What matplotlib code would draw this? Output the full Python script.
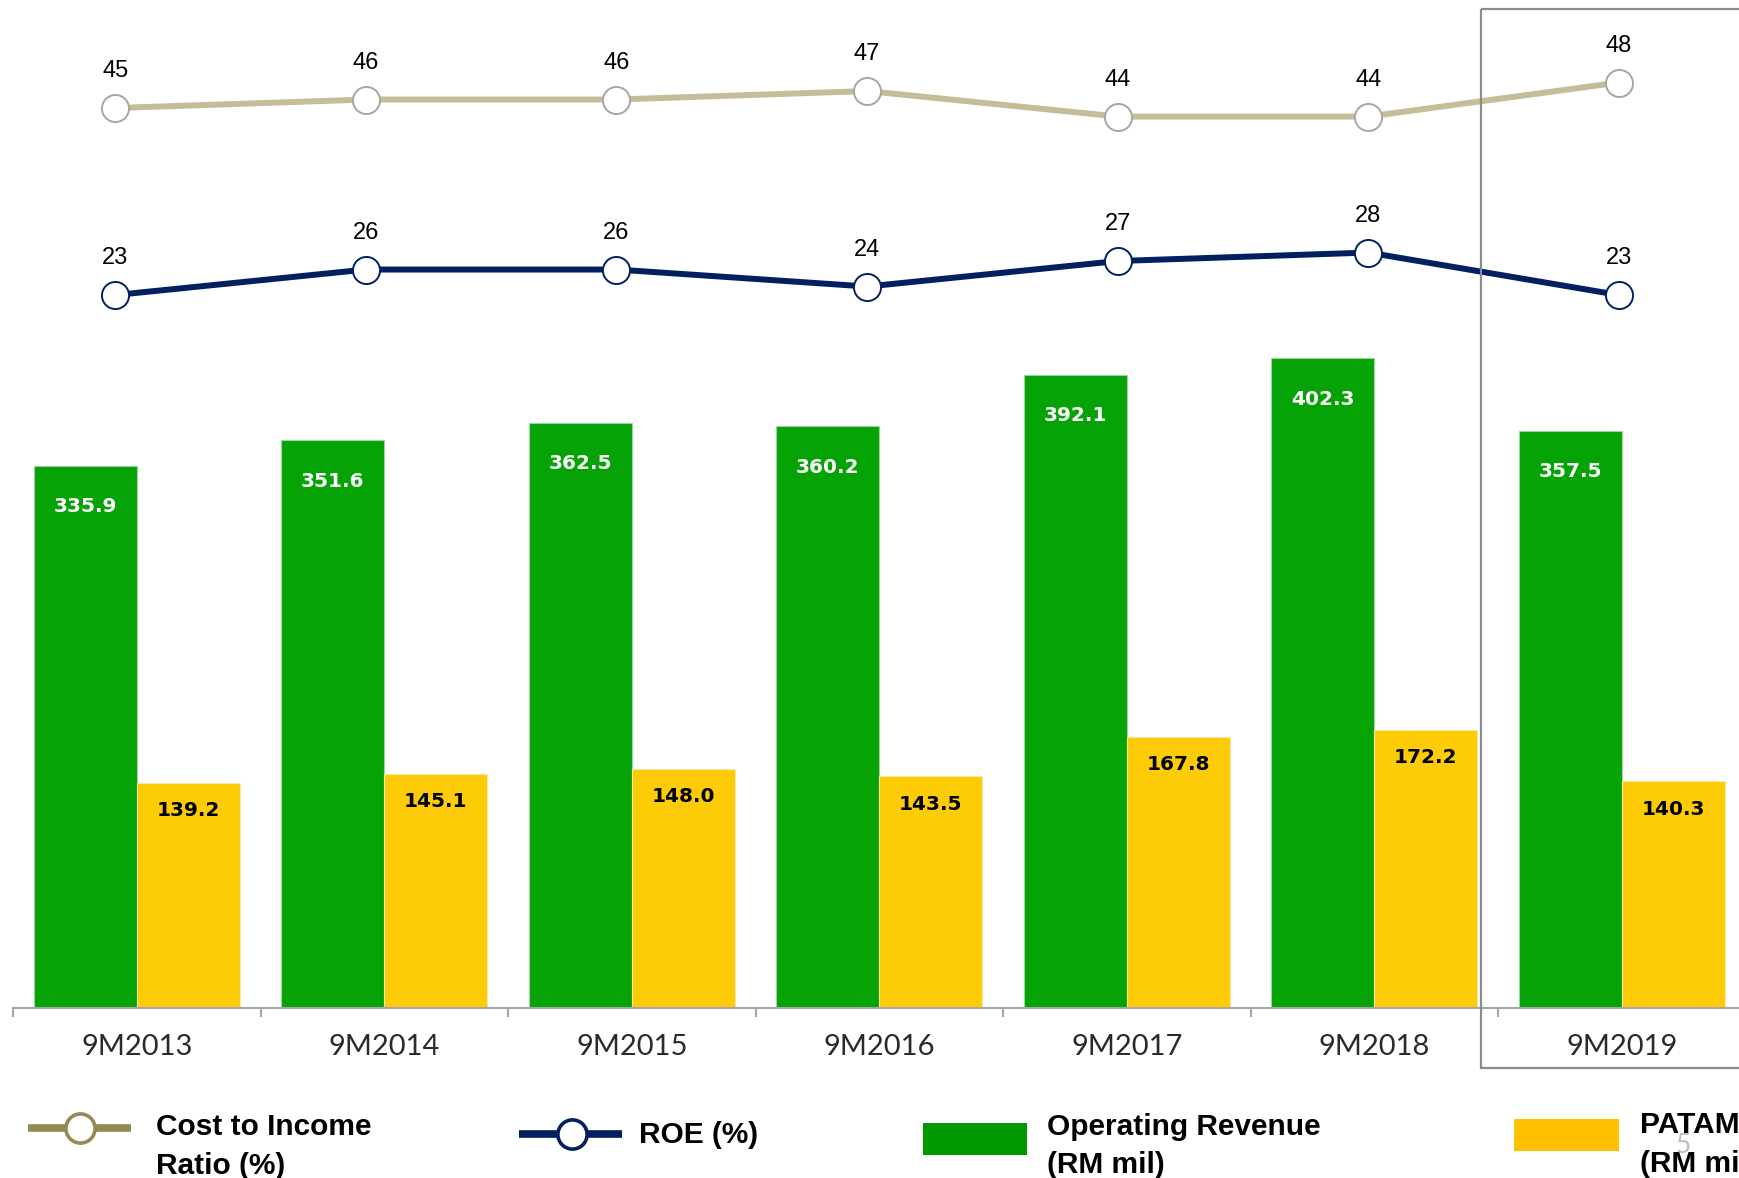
import matplotlib
matplotlib.use("Agg")
import matplotlib.pyplot as plt
from matplotlib.lines import Line2D
from matplotlib.patches import Rectangle
import numpy as np

# ---- data ----
periods = ["9M2013", "9M2014", "9M2015", "9M2016", "9M2017", "9M2018", "9M2019"]
operating_revenue = [335.9, 351.6, 362.5, 360.2, 392.1, 402.3, 357.5]
patami = [139.2, 145.1, 148.0, 143.5, 167.8, 172.2, 140.3]
cost_to_income = [45, 46, 46, 47, 44, 44, 48]
roe = [23, 26, 26, 24, 27, 28, 23]

# ---- colours ----
GREEN = "#05A305"
GREEN_EDGE = "#9ED69E"
YELLOW = "#FDCC07"
YELLOW_EDGE = "#FCE7A0"
CIR_LINE = "#C4BD97"
CIR_DARK = "#948A54"
ROE_NAVY = "#002060"
AXIS_GREY = "#A6A6A6"

W, H, DPI = 1739, 1178, 100
fig = plt.figure(figsize=(W / DPI, H / DPI), dpi=DPI)
fig.patch.set_facecolor("white")

# main axes: baseline at y=1008 px, category slots 247.5 px wide starting at x=13
left_px, base_px, slot_px = 13, 1008, 247.5
axes_rect = [left_px / W, (H - base_px) / H, 7 * slot_px / W, base_px / H]
ax = fig.add_axes(axes_rect)
ax.set_facecolor("none")

x = np.arange(len(periods))
bw = 0.416
bars_rev = ax.bar(x - bw / 2, operating_revenue, width=bw, color=GREEN,
                  edgecolor=GREEN_EDGE, linewidth=0.8, zorder=2)
bars_pat = ax.bar(x + bw / 2, patami, width=bw, color=YELLOW,
                  edgecolor=YELLOW_EDGE, linewidth=0.8, zorder=2)
ax.set_xlim(-0.5, len(periods) - 0.5)
ax.set_ylim(0, base_px / 1.615)

for rect, v in zip(bars_rev, operating_revenue):
    ax.annotate(f"{v:.1f}", (rect.get_x() + rect.get_width() / 2, v),
                xytext=(0, -29.5), textcoords="offset points",
                ha="center", va="center", color="white",
                fontsize=14.5, fontweight="bold", family="DejaVu Sans")
for rect, v in zip(bars_pat, patami):
    ax.annotate(f"{v:.1f}", (rect.get_x() + rect.get_width() / 2, v),
                xytext=(0, -20), textcoords="offset points",
                ha="center", va="center", color="black",
                fontsize=14.5, fontweight="bold", family="DejaVu Sans")

# x axis: boundary ticks, labels centred in each slot
for s in ("left", "top", "right"):
    ax.spines[s].set_visible(False)
ax.spines["bottom"].set_color(AXIS_GREY)
ax.spines["bottom"].set_linewidth(1.5)
ax.set_yticks([])
ax.set_xticks(np.arange(-0.5, len(periods), 1.0))
ax.set_xticklabels([])
ax.tick_params(axis="x", which="major", direction="out", length=6.5,
               width=1.5, color=AXIS_GREY)
ax.set_xticks(x, minor=True)
ax.set_xticklabels(periods, minor=True)
ax.tick_params(axis="x", which="minor", length=0, pad=19)
for lab in ax.get_xticklabels(minor=True):
    lab.set_fontfamily("Lato")
    lab.set_fontweight("normal")
    lab.set_fontsize(21)
    lab.set_color("#2a2a2a")

# ratio lines: own axes with a slightly wider point spacing than the bar slots
ax2 = fig.add_axes(axes_rect, zorder=5)
ax2.patch.set_alpha(0)
ax2.set_xlim(-0.408, 6.505)
ax2.set_ylim(-60.88, 57.71)
ax2.set_axis_off()
ax2.plot(x, cost_to_income, color=CIR_LINE, lw=4.3, marker="o", ms=19.5,
         mfc="white", mec="#A6A6A6", mew=1.4, zorder=3, solid_capstyle="butt")
ax2.plot(x, roe, color=ROE_NAVY, lw=4.3, marker="o", ms=19.5,
         mfc="white", mec=ROE_NAVY, mew=1.4, zorder=3, solid_capstyle="butt")
value_font = dict(ha="center", va="center", fontsize=17, color="black",
                  family="Liberation Sans")
for xi, v in zip(x, cost_to_income):
    ax2.annotate(f"{v}", (xi, v), xytext=(0, 26.5), textcoords="offset points",
                 **value_font)
for xi, v in zip(x, roe):
    ax2.annotate(f"{v}", (xi, v), xytext=(0, 26.5), textcoords="offset points",
                 **value_font)

# overlay in pixel coordinates for the highlight frame and legend
ov = fig.add_axes([0, 0, 1, 1], zorder=10)
ov.set_xlim(0, W)
ov.set_ylim(H, 0)
ov.set_axis_off()
ov.patch.set_alpha(0)

ov.add_patch(Rectangle((1481, 9), 300, 1059, fill=False,
                       edgecolor="#8C8C8C", linewidth=1.6))

# page number behind legend text
ov.text(1683, 1153, "5", ha="center", va="baseline", fontsize=19,
        color="#BDBDBD", family="Lato", zorder=1)

legend_font = dict(family="Liberation Sans", fontweight="bold",
                   fontsize=21.5, color="black", va="baseline", ha="left", zorder=3)

ov.add_line(Line2D([28, 131], [1128, 1128], color=CIR_DARK, lw=5.5,
                   solid_capstyle="butt"))
ov.plot([79.5], [1128], marker="o", ms=21, mfc="white", mec=CIR_DARK, mew=2.6)
ov.text(156, 1135, "Cost to Income", **legend_font)
ov.text(156, 1174, "Ratio (%)", **legend_font)

ov.add_line(Line2D([519, 622], [1134, 1134], color=ROE_NAVY, lw=5.5,
                   solid_capstyle="butt"))
ov.plot([572], [1134], marker="o", ms=21, mfc="white", mec=ROE_NAVY, mew=2.6)
ov.text(639, 1143, "ROE (%)", **legend_font)

ov.add_patch(Rectangle((923, 1123), 104, 32, color="#009900", lw=0))
ov.text(1047, 1135, "Operating Revenue", **legend_font)
ov.text(1047, 1173, "(RM mil)", **legend_font)

ov.add_patch(Rectangle((1514, 1119), 105, 32, color="#FFC000", lw=0))
ov.text(1640, 1133, "PATAMI", **legend_font)
ov.text(1640, 1172, "(RM mil)", **legend_font)

fig.savefig("out.png", dpi=DPI, facecolor="white")
